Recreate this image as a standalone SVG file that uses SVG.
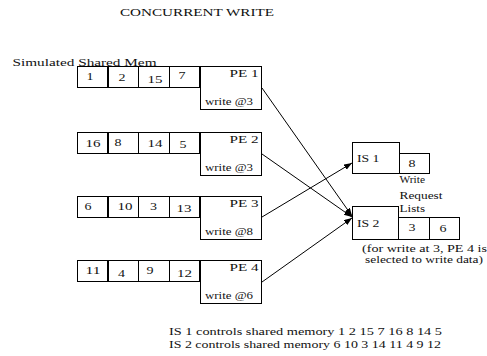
<svg xmlns="http://www.w3.org/2000/svg" width="487" height="356" viewBox="0 0 487 356">
  <style>
    text { font-family: "Liberation Serif", "Times New Roman", serif; font-size: 10px; fill: #111; }
    .box { fill: #fff; stroke: #000; stroke-width: 1; }
    .div { stroke: #000; stroke-width: 2; }
    .mid { text-anchor: middle; }
    .conn { stroke: #000; stroke-width: 1; fill: none; marker-end: url(#arrow); }
  </style>
  <defs>
    <marker id="arrow" markerUnits="userSpaceOnUse" markerWidth="9" markerHeight="7" refX="8" refY="3" orient="auto">
      <path d="M0,0 L8,3 L0,6 z" fill="#000"/>
    </marker>
    <!-- one memory row: four cells plus the PE box, drawn at local origin -->
    <g id="row">
      <rect class="box" x="77.5" y="0.5" width="123" height="21"/>
      <rect class="box" x="200.5" y="0.5" width="61" height="43"/>
      <line class="div" x1="108" y1="0.5" x2="108" y2="21.5"/>
      <line x1="138.5" y1="0.5" x2="138.5" y2="21.5" stroke="#000"/>
      <line x1="169.5" y1="0.5" x2="169.5" y2="21.5" stroke="#000"/>
      <line class="div" x1="200" y1="0.5" x2="200" y2="21.5"/>
    </g>
  </defs>

  <text x="120" y="16" textLength="154" lengthAdjust="spacingAndGlyphs">CONCURRENT WRITE</text>
  <text x="12.5" y="66" textLength="144" lengthAdjust="spacingAndGlyphs">Simulated Shared Mem</text>

  <g id="pe1">
    <use href="#row" y="66"/>
    <text class="mid" x="90" y="80" textLength="7" lengthAdjust="spacingAndGlyphs">1</text>
    <text class="mid" x="122" y="81" textLength="7" lengthAdjust="spacingAndGlyphs">2</text>
    <text class="mid" x="155" y="83" textLength="15" lengthAdjust="spacingAndGlyphs">15</text>
    <text class="mid" x="182" y="79" textLength="7" lengthAdjust="spacingAndGlyphs">7</text>
    <text x="229.5" y="77" textLength="29" lengthAdjust="spacingAndGlyphs">PE 1</text>
    <text x="205" y="105" textLength="48" lengthAdjust="spacingAndGlyphs">write @3</text>
  </g>

  <g id="pe2">
    <use href="#row" y="132"/>
    <text class="mid" x="93" y="147" textLength="15" lengthAdjust="spacingAndGlyphs">16</text>
    <text class="mid" x="118" y="146" textLength="7" lengthAdjust="spacingAndGlyphs">8</text>
    <text class="mid" x="155" y="147" textLength="15" lengthAdjust="spacingAndGlyphs">14</text>
    <text class="mid" x="183" y="148" textLength="7" lengthAdjust="spacingAndGlyphs">5</text>
    <text x="229.5" y="143" textLength="29" lengthAdjust="spacingAndGlyphs">PE 2</text>
    <text x="205" y="171" textLength="48" lengthAdjust="spacingAndGlyphs">write @3</text>
  </g>

  <g id="pe3">
    <use href="#row" y="196"/>
    <text class="mid" x="88" y="210" textLength="7" lengthAdjust="spacingAndGlyphs">6</text>
    <text class="mid" x="125" y="210" textLength="15" lengthAdjust="spacingAndGlyphs">10</text>
    <text class="mid" x="153.5" y="210" textLength="7" lengthAdjust="spacingAndGlyphs">3</text>
    <text class="mid" x="184" y="212" textLength="15" lengthAdjust="spacingAndGlyphs">13</text>
    <text x="229.5" y="207" textLength="29" lengthAdjust="spacingAndGlyphs">PE 3</text>
    <text x="205" y="235" textLength="48" lengthAdjust="spacingAndGlyphs">write @8</text>
  </g>

  <g id="pe4">
    <use href="#row" y="260"/>
    <text class="mid" x="93" y="274" textLength="15" lengthAdjust="spacingAndGlyphs">11</text>
    <text class="mid" x="121.5" y="276.5" textLength="7" lengthAdjust="spacingAndGlyphs">4</text>
    <text class="mid" x="150" y="274" textLength="7" lengthAdjust="spacingAndGlyphs">9</text>
    <text class="mid" x="184.5" y="276.5" textLength="15" lengthAdjust="spacingAndGlyphs">12</text>
    <text x="229.5" y="271" textLength="29" lengthAdjust="spacingAndGlyphs">PE 4</text>
    <text x="205" y="299" textLength="48" lengthAdjust="spacingAndGlyphs">write @6</text>
  </g>

  <g id="is1">
    <rect class="box" x="352.5" y="142.5" width="47" height="31"/>
    <rect class="box" x="399.5" y="153.5" width="30" height="20"/>
    <text x="357" y="162" textLength="22.5" lengthAdjust="spacingAndGlyphs">IS 1</text>
    <text class="mid" x="412" y="167" textLength="7" lengthAdjust="spacingAndGlyphs">8</text>
  </g>

  <g id="is2">
    <rect class="box" x="352.5" y="206.5" width="46" height="33"/>
    <rect class="box" x="398.5" y="217.5" width="31" height="22"/>
    <rect class="box" x="429.5" y="217.5" width="30" height="22"/>
    <text x="357" y="227" textLength="22.5" lengthAdjust="spacingAndGlyphs">IS 2</text>
    <text class="mid" x="412" y="231" textLength="7" lengthAdjust="spacingAndGlyphs">3</text>
    <text class="mid" x="443" y="231.5" textLength="7" lengthAdjust="spacingAndGlyphs">6</text>
  </g>

  <g id="notes">
    <text x="399.5" y="183" textLength="25.5" lengthAdjust="spacingAndGlyphs">Write</text>
    <text x="399.5" y="198.5" textLength="43" lengthAdjust="spacingAndGlyphs">Request</text>
    <text x="399.5" y="212" textLength="25.5" lengthAdjust="spacingAndGlyphs">Lists</text>
    <text x="362" y="252" textLength="125" lengthAdjust="spacingAndGlyphs">(for write at 3, PE 4 is</text>
    <text x="365" y="262.5" textLength="118" lengthAdjust="spacingAndGlyphs">selected to write data)</text>
    <text x="169" y="335" textLength="273" lengthAdjust="spacingAndGlyphs">IS 1 controls shared memory 1 2 15 7 16 8 14 5</text>
    <text x="169" y="347.5" textLength="272" lengthAdjust="spacingAndGlyphs">IS 2 controls shared memory 6 10 3 14 11 4 9 12</text>
  </g>

  <g id="connectors">
    <line class="conn" x1="262" y1="88" x2="352" y2="216"/>
    <line class="conn" x1="262" y1="154" x2="352" y2="217"/>
    <line class="conn" x1="262" y1="217" x2="352" y2="163"/>
    <line class="conn" x1="262" y1="282" x2="352" y2="218"/>
  </g>
</svg>
